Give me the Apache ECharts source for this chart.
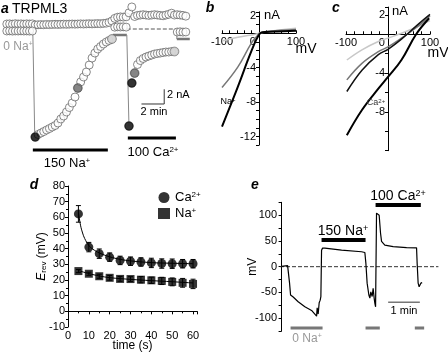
<!DOCTYPE html>
<html>
<head>
<meta charset="utf-8">
<script src="https://cdn.jsdelivr.net/npm/echarts@6/dist/echarts.min.js"></script>
<style>
html, body { margin: 0; padding: 0; background: #fff; }
#chart { width: 448px; height: 353px; }
</style>
</head>
<body>
<div id="chart"></div>
<script>
// ---- panel a : time course, sampled every 15 s (min, nA) ----
const aTime = [0, 0.25, 0.5, 0.75, 1, 1.25, 1.5, 1.75, 2, 2.25,
  2.5, 2.75, 3, 3.25, 3.5, 3.75, 4, 4.25, 4.5, 4.75, 5, 5.25, 5.5, 5.75, 6, 6.25, 6.5, 6.75, 7, 7.25,
  7.5, 7.75, 8, 8.25, 8.5, 8.75, 9, 9.25, 9.5, 9.75, 10, 10.25, 10.5, 10.75, 11, 11.25, 11.5, 11.75,
  12, 12.25, 12.5, 12.75, 13, 13.25, 13.5, 13.75, 14, 14.25, 14.5, 14.75, 15, 15.25, 15.5, 15.75];
const aPos = [0.68, 0.70, 0.66, 0.72, 0.68, 0.70, 0.66, 0.70, 0.68, 0.70,
  0.55, 0.58, 0.60, 0.58, 0.62, 0.60, 0.62, 0.64, 0.62, 0.64, 0.66, 0.64, 0.66, 0.68, 0.66, 0.68,
  0.70, 0.68, 0.70, 0.72, 0.70, 0.72, 0.74, 0.72, 0.76, 0.80, 0.90, 1.10,
  1.45, 1.60, 1.65, 1.62, 1.66,
  2.2, 3.0, 1.7, 1.85, 1.9, 1.95, 1.9, 1.85, 1.9, 1.95, 1.9, 1.85, 1.8, 1.9, 2.0, 2.15, 1.9, 1.95, 1.9, 1.85, 1.75];
const aNeg = [-0.27, -0.25, -0.28, -0.26, -0.27, -0.25, -0.27, -0.26, -0.28, -0.27,
  -14.69, -14.35, -14.15, -13.95, -13.74, -13.54, -13.33, -13.13, -12.79, -12.24, -11.84, -11.29,
  -10.68, -10.07, -9.25, -8.03, -7.2, -6.53, -5.85, -4.90, -3.95, -3.27, -2.72, -2.38, -2.04, -1.77, -1.56, -1.36,
  0.25, 0.30, 0.28, 0.30, 0.26,
  -13.2, -7.35, -6.0, -4.83, -4.29, -4.01, -3.81, -3.67, -3.54, -3.40, -3.33, -3.27, -3.20, -3.13, -3.13,
  -3.06, -3.06, -0.41, -0.38, -0.42, -0.40];
const aMarkIdx = [10, 25, 37, 43, 44, 45, 59];
const aMarkShade = ['#000', '#666', '#ccc', '#000', '#000', '#666', '#ccc'];
const aZeroNa = [[0, 2.29, -0.54], [9.33, 10.56, -0.82], [14.96, 16.1, -1.36]];
const aLinks = [[[2.29, -0.54], [2.46, -14.69]], [[10.56, -0.82], [10.75, -13.2]], [[14.96, -0.41], [14.96, -1.36]]];
const aNaBar = [2.29, 8.89, -16.46];
const aCaBar = [10.65, 14.88, -14.83];
const aScale = [[11.85, -10.2], [13.85, -10.2], [13.85, -8.2]];
const aZero = [[10.56, 0], [14.9, 0]];

// ---- panel b : I-V in Na (mV, nA) ----
const bBlack = [[-100, -10.85], [-80, -8.7], [-57, -6.2], [-30, -3.1], [-12, -1.16], [-3, -0.4], [6, 0.07], [20, 0.15], [50, 0.22], [100, 0.3]];
const bDark = [[-100, -6.3], [-57, -3.9], [-21, -1.16], [-5, -0.3], [2, 0.05], [20, 0.2], [60, 0.35], [100, 0.45]];
const bLight = [[-100, -0.9], [-57, -0.47], [-10, -0.1], [0, 0], [30, 0.25], [100, 0.6]];

// ---- panel c : I-V in Ca ----
const cLight = [[-98, -2.65], [-62, -1.6], [-23, -0.75], [0, -0.4], [32, 0.1], [71, 0.8], [100, 1.4]];
const cDark = [[-98, -4.7], [-62, -3.0], [-23, -1.8], [0, -1.3], [32, -0.4], [71, 0.8], [100, 1.9]];
const cBlack = [[-98, -5.9], [-62, -3.7], [-23, -2.1], [0, -1.55], [32, -0.5], [71, 1.0], [100, 2.05]];
const cBlack2 = [[-98, -10.4], [-62, -7.8], [-23, -5.6], [0, -4.4], [32, -2.65], [67, 0], [98, 1.65]];

// ---- panel d : Erev vs time ----
const dTime = [5, 10, 15, 20, 25, 30, 35, 40, 45, 50, 55, 60];
const caMean = [62.2, 41, 36.8, 34.6, 32.5, 32, 31.5, 30.9, 30.5, 30.4, 30.4, 30.4];
const caErr = [5.3, 3, 3, 2.7, 2.7, 2.7, 2.7, 3, 3, 3, 2.7, 2.7];
const naMean = [25.7, 24, 22.4, 21.4, 20.7, 20.6, 20.2, 19.8, 19.4, 18.8, 18.2, 17.5];
const naErr = [1, 1, 1.3, 1.5, 1.5, 1.5, 2, 2, 2.3, 2.5, 2.8, 3];
const caFit = [[5, 63], [6, 55], [7, 50], [8, 46.5], [10, 42], [12, 39.6], [15, 37.3], [20, 34.8], [25, 33.2], [30, 32.2], [40, 31.1], [50, 30.7], [60, 30.4]];
const naFit = [[5, 26], [10, 24.1], [15, 22.6], [20, 21.5], [30, 20.4], [40, 19.6], [50, 18.9], [60, 18.1]];

// ---- panel e : membrane potential (s, mV) ----
const eTime = [0, 11.4, 13.8, 15.1, 17, 22, 31.4, 44.1, 56.8, 66.3, 67.4, 69.3, 71.2, 73.1, 74.4,
  75.7, 77.6, 82, 113.6, 151.4, 157.7, 159.6, 162, 165.3, 167.2, 169, 171.5, 173.4, 175.3, 176.6,
  178, 179.8, 182.9, 184.8, 187.4, 189.3, 195.5, 211.3, 236.6, 255.6, 256.7, 258.6, 260.5, 263.7, 266.2];
const eVolt = [0.5, 2, 0, -32, -55, -59, -68, -78, -85, -96, -80, -92, -70, -65, -58,
  32, 36, 36, 32, 29, 27.5, 7, -32, -55, -61, -49, -58, -42, -61, -71,
  -78, 104, 105, 100, 65, 49, 42, 39, 37, 36.5, 7, -32, -39, -32, -31];
const eNaBar = [75.7, 159, 52];
const eCaBar = [178, 263.7, 120];
const eScale = [201.8, 261.8, -69];
const eZeroNa = [[17, 77.6], [159, 186], [252.3, 270]];
const eZeroNaLevel = -119;

const FF = '"Liberation Sans", Arial, sans-serif';
const myChart = echarts.init(document.getElementById('chart'));

const grids = [
  { left: 0, top: 0, width: 200, height: 170 },
  { left: 222, top: 11.8, width: 74, height: 133.3 },
  { left: 346, top: 7.1, width: 84, height: 143.6 },
  { left: 68, top: 186, width: 129.2, height: 141 },
  { left: 280, top: 202.3, width: 160, height: 128.75 }
];

function seg(ax, pts, color, width, type, z) {
  return {
    type: 'line', xAxisIndex: ax, yAxisIndex: ax, data: pts, symbol: 'none', silent: true,
    lineStyle: { color: color, width: width, type: type || 'solid' }, z: z || 1, animation: false
  };
}
function curve(ax, pts, color, width) {
  let s = seg(ax, pts, color, width, 'solid', 2);
  s.smooth = 0.4;
  return s;
}
function txt(x, y, text, size, opts) {
  opts = opts || {};
  return {
    type: 'text', x: x, y: y, z: 100, silent: true,
    style: {
      text: text, fontFamily: FF, fontSize: size, fill: opts.fill || '#000',
      fontWeight: opts.bold ? 'bold' : 'normal', fontStyle: opts.italic ? 'italic' : 'normal',
      align: opts.align || 'center', verticalAlign: 'middle',
      textAlign: opts.align || 'center', textVerticalAlign: 'middle',
      rich: opts.rich
    }
  };
}
const supRich = function (size, fill) {
  return {
    n: { fontSize: size, fontFamily: FF, fill: fill || '#000' },
    s: { fontSize: Math.round(size * 0.62), fontFamily: FF, fill: fill || '#000', verticalAlign: 'top' }
  };
};

const axisBlack = { lineStyle: { color: '#000', width: 1 } };
const freeLine = { onZero: false, lineStyle: { color: '#000', width: 1 } };
const hidden = { show: false };

// IV panels: move the axes so they cross at the origin
function ivAxes(g, ymin, ymax, yInterval, yLabels) {
  const zeroY = g.top + g.height * ymax / (ymax - ymin);
  const zeroX = g.left + g.width / 2;
  const x = { type: 'value', min: -100, max: 100, interval: 20, position: 'bottom',
    offset: -(g.top + g.height - zeroY),
    axisLine: freeLine, axisTick: { inside: true, length: 3, lineStyle: { color: '#000' } }, splitLine: hidden,
    axisLabel: { showMinLabel: true, showMaxLabel: true, hideOverlap: false, fontSize: 11, fontFamily: FF, color: '#000', margin: 3,
      formatter: v => (v === -100 || v === 100) ? String(v) : (v === 0 ? '0    ' : '') } };
  const y = { type: 'value', min: ymin, max: ymax, interval: yInterval, position: 'left',
    offset: -(zeroX - g.left),
    axisLine: freeLine, axisTick: { length: 3, lineStyle: { color: '#000' } }, splitLine: hidden,
    axisLabel: { fontSize: 11, fontFamily: FF, color: '#000', margin: 3,
      formatter: v => yLabels.indexOf(v) >= 0 ? String(v) : '' } };
  return [x, y];
}
const bAx = ivAxes(grids[1], -13, 2.5, 1, [2, -4, -8, -12]);
const cAx = ivAxes(grids[2], -12, 2.8, 2, [2, -4, -8]);

const xAxes = [
  { gridIndex: 0, type: 'value', min: -0.6, max: 17, show: false },
  Object.assign({ gridIndex: 1 }, bAx[0]),
  Object.assign({ gridIndex: 2 }, cAx[0]),
  { gridIndex: 3, type: 'value', min: 0, max: 62, interval: 10,
    axisLine: axisBlack, axisTick: { length: 3, lineStyle: { color: '#000' } }, splitLine: hidden,
    minorTick: { show: true, splitNumber: 2, length: 2, lineStyle: { color: '#000' } },
    axisLabel: { fontSize: 11, fontFamily: FF, color: '#000', margin: 3, formatter: v => v % 10 === 0 ? String(v) : '' },
    name: 'time (s)', nameLocation: 'middle', nameGap: 13, nameMoveOverlap: false,
    nameTextStyle: { fontSize: 12, fontFamily: FF, color: '#000' } },
  { gridIndex: 4, type: 'value', min: -3, max: 300, show: false }
];

const yAxes = [
  { gridIndex: 0, type: 'value', min: -19.18, max: 3.946, show: false },
  Object.assign({ gridIndex: 1 }, bAx[1]),
  Object.assign({ gridIndex: 2 }, cAx[1]),
  { gridIndex: 3, type: 'value', min: -10, max: 80, interval: 10,
    axisLine: axisBlack, axisTick: { length: 3, lineStyle: { color: '#000' } }, splitLine: hidden,
    minorTick: { show: true, splitNumber: 2, length: 2, lineStyle: { color: '#000' } },
    axisLabel: { fontSize: 11, fontFamily: FF, color: '#000', margin: 3 },
    name: '{i|E}{sub|rev} (mV)', nameLocation: 'middle', nameGap: 20, nameMoveOverlap: false,
    nameTextStyle: { fontSize: 12, fontFamily: FF, color: '#000',
      rich: { i: { fontSize: 12, fontStyle: 'italic', fontFamily: FF, color: '#000' },
              sub: { fontSize: 8, fontFamily: FF, color: '#000', verticalAlign: 'bottom' } } } },
  { gridIndex: 4, type: 'value', min: -125, max: 125, interval: 25,
    axisLine: axisBlack, axisTick: { length: 3, lineStyle: { color: '#000' } }, splitLine: hidden,
    axisLabel: { fontSize: 11, fontFamily: FF, color: '#000', margin: 3,
      formatter: v => Math.abs(v) % 50 === 0 && Math.abs(v) <= 100 ? String(v) : '' },
    name: 'mV', nameLocation: 'middle', nameGap: 21, nameMoveOverlap: false,
    nameTextStyle: { fontSize: 12, fontFamily: FF, color: '#000' } }
];

const series = [];
// panel a
aZeroNa.forEach(b => series.push(seg(0, [[b[0], b[2]], [b[1], b[2]]], '#777', 2.5)));
aLinks.forEach(l => series.push(seg(0, l, '#888', 1)));
series.push(seg(0, aZero, '#555', 1, 'dashed'));
series.push(seg(0, [[aNaBar[0], aNaBar[2]], [aNaBar[1], aNaBar[2]]], '#000', 3));
series.push(seg(0, [[aCaBar[0], aCaBar[2]], [aCaBar[1], aCaBar[2]]], '#000', 3));
series.push(seg(0, aScale, '#333', 1));
const openCircle = { color: '#fff', borderColor: '#5a5a5a', borderWidth: 0.9 };
series.push({ type: 'scatter', xAxisIndex: 0, yAxisIndex: 0, symbolSize: 8, itemStyle: openCircle, z: 2, silent: true,
  data: aTime.map((t, i) => [t, aPos[i]]) });
series.push({ type: 'scatter', xAxisIndex: 0, yAxisIndex: 0, symbolSize: 8, itemStyle: openCircle, z: 2, silent: true,
  data: aTime.map((t, i) => [t, aNeg[i]]) });
series.push({ type: 'scatter', xAxisIndex: 0, yAxisIndex: 0, symbolSize: 9, z: 3, silent: true,
  data: aMarkIdx.map((k, j) => ({ value: [aTime[k], aNeg[k]], itemStyle: { color: aMarkShade[j], borderColor: '#444', borderWidth: 0.5 } })) });

// panel b
series.push(curve(1, bLight, '#c8c8c8', 1.5));
series.push(curve(1, bDark, '#777', 1.5));
series.push(curve(1, bBlack, '#000', 2));
// panel c
series.push(curve(2, cLight, '#c8c8c8', 1.5));
series.push(curve(2, cDark, '#777', 1.5));
series.push(curve(2, cBlack, '#111', 1.5));
series.push(curve(2, cBlack2, '#000', 2));

// panel d
function errBars(means, errs) {
  return {
    type: 'custom', xAxisIndex: 3, yAxisIndex: 3, silent: true, z: 2,
    data: dTime.map((t, i) => [t, means[i], errs[i]]),
    renderItem: function (params, api) {
      const x = api.value(0), y = api.value(1), e = api.value(2);
      const top = api.coord([x, y + e]), bot = api.coord([x, y - e]);
      const st = { stroke: '#000', lineWidth: 1 };
      return { type: 'group', children: [
        { type: 'line', shape: { x1: top[0], y1: top[1], x2: bot[0], y2: bot[1] }, style: st },
        { type: 'line', shape: { x1: top[0] - 2.5, y1: top[1], x2: top[0] + 2.5, y2: top[1] }, style: st },
        { type: 'line', shape: { x1: bot[0] - 2.5, y1: bot[1], x2: bot[0] + 2.5, y2: bot[1] }, style: st }
      ] };
    }
  };
}
series.push(errBars(caMean, caErr));
series.push(errBars(naMean, naErr));
series.push(curve(3, caFit, '#000', 1));
series.push(curve(3, naFit, '#000', 1));
series.push({ name: 'Ca2+', type: 'scatter', xAxisIndex: 3, yAxisIndex: 3, symbol: 'circle', symbolSize: 9, z: 3,
  itemStyle: { color: '#000' }, data: dTime.map((t, i) => [t, caMean[i]]) });
series.push({ name: 'Na+', type: 'scatter', xAxisIndex: 3, yAxisIndex: 3, symbol: 'rect', symbolSize: 8, z: 3,
  itemStyle: { color: '#000' }, data: dTime.map((t, i) => [t, naMean[i]]) });

// panel e
series.push(seg(4, [[-3, 0], [297, 0]], '#333', 1, 'dashed'));
series.push(seg(4, eTime.map((t, i) => [t, eVolt[i]]), '#000', 1.2, 'solid', 3));
series.push(seg(4, [[eNaBar[0], eNaBar[2]], [eNaBar[1], eNaBar[2]]], '#000', 4));
series.push(seg(4, [[eCaBar[0], eCaBar[2]], [eCaBar[1], eCaBar[2]]], '#000', 4));
series.push(seg(4, [[eScale[0], eScale[2]], [eScale[1], eScale[2]]], '#777', 1.5));
eZeroNa.forEach(b => series.push(seg(4, [[b[0], eZeroNaLevel], [b[1], eZeroNaLevel]], '#777', 3)));

const graphics = [
  txt(1, 9, 'a', 14, { bold: true, italic: true, align: 'left' }),
  txt(12, 9, 'TRPML3', 14, { align: 'left' }),
  txt(18, 47, '{n|0 Na}{s|+}', 12, { rich: supRich(12, '#999') }),
  txt(67, 163, '{n|150 Na}{s|+}', 13, { rich: supRich(13) }),
  txt(153, 152, '{n|100 Ca}{s|2+}', 13, { rich: supRich(13) }),
  txt(167, 95, '2 nA', 11, { align: 'left' }),
  txt(154, 112, '2 min', 11),
  txt(210, 8, 'b', 14, { bold: true, italic: true }),
  txt(264, 15, 'nA', 13, { align: 'left' }),
  txt(306, 49, 'mV', 14),
  txt(228, 102, '{n|Na}{s|+}', 9, { rich: supRich(9) }),
  txt(336, 8, 'c', 14, { bold: true, italic: true }),
  txt(392, 11, 'nA', 13, { align: 'left' }),
  txt(438, 53, 'mV', 14),
  txt(376, 103, '{n|Ca}{s|2+}', 9, { rich: supRich(9, '#333') }),
  txt(34, 185, 'd', 14, { bold: true, italic: true }),
  txt(255, 185, 'e', 14, { bold: true, italic: true }),
  txt(343, 231, '{n|150 Na}{s|+}', 14, { rich: supRich(14) }),
  txt(398, 196, '{n|100 Ca}{s|2+}', 14, { rich: supRich(14) }),
  txt(404, 311, '1 min', 11),
  txt(307, 339, '{n|0 Na}{s|+}', 12, { rich: supRich(12, '#999') })
];

myChart.setOption({
  animation: false,
  grid: grids,
  xAxis: xAxes,
  yAxis: yAxes,
  legend: {
    data: [{ name: 'Ca2+', icon: 'circle' }, { name: 'Na+', icon: 'rect' }],
    orient: 'vertical', left: 153, top: 186, itemWidth: 12, itemHeight: 11, itemGap: 3,
    selectedMode: false,
    formatter: name => name === 'Ca2+' ? '{n|Ca}{s|2+}' : '{n|Na}{s|+}',
    textStyle: { fontSize: 13, fontFamily: FF, color: '#000',
      rich: { n: { fontSize: 13, fontFamily: FF, color: '#000' },
              s: { fontSize: 8, fontFamily: FF, color: '#000', verticalAlign: 'top' } } }
  },
  graphic: graphics,
  series: series
});
</script>
</body>
</html>
